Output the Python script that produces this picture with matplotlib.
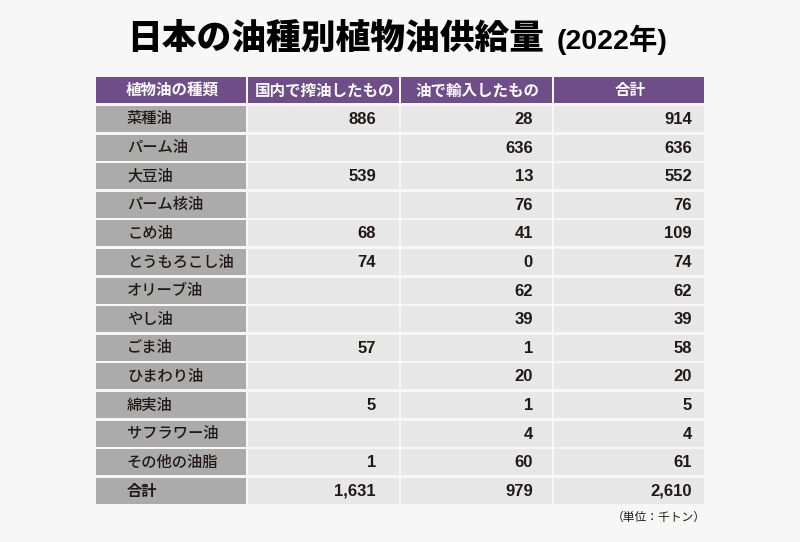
import matplotlib.pyplot as plt
from matplotlib.patches import Rectangle

# table content
headers = ['植物油の種類', '国内で搾油したもの', '油で輸入したもの', '合計']
oils = ['菜種油', 'パーム油', '大豆油', 'パーム核油', 'こめ油', 'とうもろこし油',
        'オリーブ油', 'やし油', 'ごま油', 'ひまわり油', '綿実油', 'サフラワー油',
        'その他の油脂', '合計']
domestic = ['886', '', '539', '', '68', '74', '', '', '57', '', '5', '', '1', '1,631']
imported = ['28', '636', '13', '76', '41', '0', '62', '39', '1', '20', '1', '4', '60', '979']
total = ['914', '636', '552', '76', '109', '74', '62', '39', '58', '20', '5', '4', '61', '2,610']

title = '日本の油種別植物油供給量'
title_year = '(2022年)'
unit_note = '（単位：千トン）'

BG = '#f7f7f7'
PURPLE = '#6e4d89'
GRAY = '#aaabaa'
LIGHT = '#e6e7e6'
INK = '#231815'
JP = ['Noto Sans CJK JP', 'DejaVu Sans']
NUM = ['Liberation Sans', 'Noto Sans CJK JP', 'DejaVu Sans']

fig = plt.figure(figsize=(8, 5.42), dpi=100, facecolor=BG)
ax = fig.add_axes([0, 0, 1, 1])
ax.set_xlim(0, 800)
ax.set_ylim(542, 0)
ax.axis('off')

# column edges (left, right) and number right edges
cols = [(96, 246), (248, 399), (401, 552), (554, 704)]
num_right = [376, 533, 692]

# header row
for (x0, x1), h in zip(cols, headers):
    ax.add_patch(Rectangle((x0, 77), x1 - x0, 26, color=PURPLE, lw=0))
    ax.text((x0 + x1) / 2 + 1, 90.5, h, ha='center', va='center', color='white',
            fontsize=11.2, fontweight='bold', family=JP)

row_top = 106
pitch = 28.6
row_h = 26
for i, name in enumerate(oils):
    y0 = row_top + i * pitch
    yc = y0 + row_h / 2
    ax.add_patch(Rectangle((cols[0][0], y0), cols[0][1] - cols[0][0], row_h, color=GRAY, lw=0))
    for x0, x1 in cols[1:]:
        ax.add_patch(Rectangle((x0, y0), x1 - x0, row_h, color=LIGHT, lw=0))
    wt = 'bold' if name == '合計' else 'medium'
    ax.text(127, yc, name, ha='left', va='center', color=INK, fontsize=11,
            fontweight=wt, family=JP)
    for xr, val in zip(num_right, (domestic[i], imported[i], total[i])):
        if val:
            ax.text(xr, yc + 0.5, val, ha='right', va='center', color=INK,
                    fontsize=12, fontweight='bold', family=NUM)

ax.text(127, 39, title, ha='left', va='center', color='black', fontsize=25,
        fontweight='black', family=JP)
ax.text(557, 40, title_year, ha='left', va='center', color='black', fontsize=20.5,
        fontweight='bold', family=NUM)

ax.text(706, 517, unit_note, ha='right', va='center', color=INK, fontsize=8.5,
        family=JP)

fig.savefig('out.png', dpi=100, facecolor=BG)
